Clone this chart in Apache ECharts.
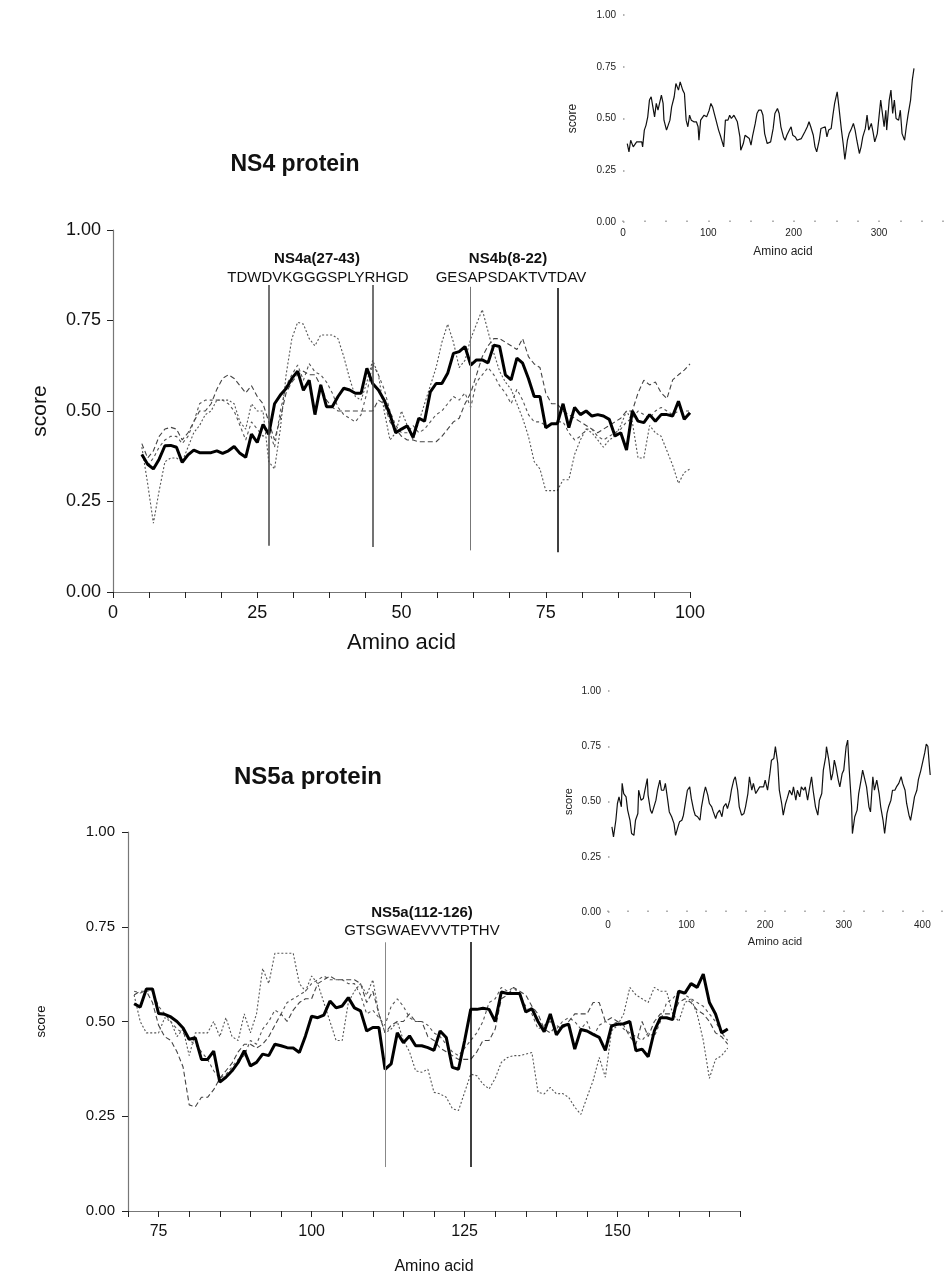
<!DOCTYPE html>
<html>
<head>
<meta charset="utf-8">
<script src="https://cdn.jsdelivr.net/npm/echarts@6/dist/echarts.min.js"></script>
<style>
  html, body { margin: 0; padding: 0; background: #fff; }
  #chart { width: 950px; height: 1276px; }
</style>
</head>
<body>
<div id="chart"></div>
<script>
var FONT = 'Arial, "Liberation Sans", sans-serif';

// NS4 main plot, amino acids 5..100
var ns4Start = 5;
var ns4Solid = [0.38,0.353,0.34,0.367,0.404,0.405,0.40,0.358,0.379,0.392,
  0.385,0.385,0.385,0.39,0.383,0.39,0.402,0.383,0.372,0.436,
  0.413,0.463,0.436,0.52,0.544,0.562,0.59,0.61,0.557,0.585,
  0.49,0.572,0.512,0.512,0.54,0.563,0.558,0.549,0.549,0.618,
  0.576,0.558,0.53,0.49,0.44,0.45,0.459,0.427,0.48,0.472,
  0.553,0.576,0.576,0.604,0.659,0.664,0.678,0.627,0.641,0.641,
  0.633,0.682,0.678,0.6,0.586,0.646,0.632,0.59,0.54,0.54,
  0.454,0.465,0.465,0.52,0.454,0.51,0.49,0.5,0.486,0.49,
  0.486,0.477,0.431,0.44,0.392,0.5,0.472,0.468,0.49,0.472,
  0.49,0.49,0.486,0.527,0.477,0.495];
var ns4Dot = [0.40,0.30,0.19,0.28,0.36,0.37,0.37,0.36,0.40,0.44,
  0.46,0.49,0.50,0.53,0.53,0.53,0.52,0.47,0.45,0.52,
  0.50,0.50,0.36,0.34,0.45,0.60,0.70,0.745,0.74,0.70,
  0.68,0.71,0.71,0.71,0.70,0.65,0.59,0.54,0.53,0.58,
  0.64,0.60,0.50,0.42,0.44,0.50,0.46,0.42,0.47,0.52,
  0.57,0.62,0.69,0.74,0.69,0.62,0.64,0.70,0.74,0.78,
  0.72,0.66,0.61,0.58,0.56,0.52,0.48,0.43,0.36,0.34,
  0.28,0.28,0.28,0.31,0.31,0.38,0.42,0.45,0.44,0.42,
  0.40,0.42,0.43,0.46,0.50,0.47,0.37,0.37,0.46,0.44,
  0.43,0.39,0.35,0.30,0.33,0.34];
var ns4Long = [0.41,0.37,0.39,0.43,0.45,0.455,0.45,0.42,0.44,0.47,
  0.50,0.50,0.52,0.56,0.59,0.60,0.59,0.57,0.55,0.57,
  0.54,0.52,0.47,0.42,0.48,0.55,0.58,0.60,0.61,0.60,
  0.60,0.57,0.53,0.51,0.50,0.50,0.50,0.50,0.50,0.50,
  0.50,0.53,0.52,0.47,0.45,0.43,0.42,0.42,0.415,0.415,
  0.415,0.415,0.43,0.45,0.47,0.48,0.52,0.55,0.60,0.65,
  0.68,0.70,0.70,0.69,0.68,0.67,0.70,0.65,0.63,0.62,
  0.55,0.52,0.52,0.50,0.49,0.48,0.47,0.46,0.45,0.44,
  0.45,0.46,0.47,0.48,0.50,0.50,0.55,0.585,0.572,0.58,
  0.55,0.534,0.586,0.60,0.613,0.63];
var ns4Med = [0.38,0.35,0.37,0.40,0.42,0.43,0.43,0.41,0.43,0.47,
  0.52,0.53,0.53,0.53,0.53,0.52,0.50,0.46,0.42,0.47,
  0.45,0.43,0.45,0.40,0.50,0.57,0.60,0.627,0.585,0.631,
  0.608,0.60,0.58,0.55,0.51,0.49,0.48,0.47,0.49,0.55,
  0.63,0.60,0.56,0.50,0.46,0.44,0.44,0.46,0.44,0.45,
  0.47,0.49,0.50,0.52,0.54,0.53,0.55,0.51,0.58,0.60,
  0.62,0.60,0.57,0.55,0.52,0.56,0.53,0.49,0.47,0.47,
  0.46,0.46,0.47,0.47,0.44,0.42,0.43,0.45,0.45,0.43,
  0.42,0.43,0.44,0.45,0.47,0.48,0.50,0.49,0.48,0.50,
  0.51,0.50,0.49,0.50,0.50,0.50];
var ns4Marks = [27, 45, 62, 77];

// NS4 whole-protein inset
var ns4FullX = [5,7,9,12,16,22,23,25,27,29,31,33,35,37,39,41,43,45,47,48,
  51,52,55,57,60,62,65,67,70,72,74,76,78,80,83,86,88,89,91,93,
  95,98,101,103,105,107,109,112,114,116,118,120,123,125,127,130,132,134,137,138,
  141,143,145,148,150,152,155,157,159,162,164,166,169,171,173,176,178,181,183,185,
  188,190,192,195,197,199,202,204,206,209,211,213,216,218,220,223,225,227,230,232,
  234,237,239,241,244,246,248,251,253,256,258,260,263,265,267,270,272,274,277,279,
  281,284,286,288,291,293,295,298,300,302,304,306,308,309,312,314,316,318,320,323,
  325,327,330,332,334,337,339,341];
var ns4FullY = [0.379,0.339,0.395,0.363,0.387,0.387,0.363,0.444,0.468,0.508,0.589,0.605,0.556,0.508,0.573,0.54,0.548,0.613,0.573,0.492,
  0.444,0.435,0.492,0.556,0.605,0.669,0.637,0.677,0.637,0.621,0.492,0.46,0.516,0.492,0.484,0.484,0.46,0.395,0.492,0.484,
  0.516,0.508,0.54,0.573,0.556,0.524,0.492,0.444,0.419,0.427,0.363,0.492,0.492,0.516,0.5,0.516,0.508,0.484,0.411,0.347,
  0.379,0.419,0.411,0.403,0.371,0.419,0.476,0.524,0.54,0.54,0.516,0.427,0.379,0.379,0.387,0.452,0.524,0.548,0.524,0.46,
  0.411,0.395,0.419,0.444,0.46,0.419,0.411,0.395,0.387,0.403,0.419,0.435,0.46,0.484,0.46,0.419,0.363,0.339,0.395,0.452,
  0.452,0.46,0.411,0.444,0.452,0.516,0.573,0.629,0.556,0.444,0.379,0.302,0.395,0.427,0.444,0.476,0.444,0.395,0.331,0.363,
  0.411,0.452,0.516,0.444,0.476,0.435,0.387,0.427,0.508,0.589,0.524,0.46,0.54,0.444,0.589,0.637,0.524,0.589,0.5,0.492,
  0.54,0.427,0.395,0.46,0.516,0.589,0.685,0.742];

// NS5a main plot, amino acids 71..168
var ns5Start = 71;
var ns5Solid = [0.547,0.538,0.586,0.586,0.521,0.519,0.512,0.50,0.483,0.453,
  0.457,0.40,0.40,0.422,0.34,0.353,0.37,0.392,0.423,0.383,
  0.392,0.414,0.41,0.44,0.436,0.431,0.43,0.418,0.462,0.514,
  0.51,0.517,0.554,0.536,0.541,0.563,0.536,0.528,0.475,0.484,
  0.484,0.374,0.388,0.47,0.444,0.462,0.436,0.436,0.431,0.424,
  0.475,0.458,0.379,0.374,0.449,0.532,0.532,0.535,0.532,0.50,
  0.578,0.574,0.574,0.574,0.525,0.534,0.50,0.473,0.52,0.465,
  0.488,0.493,0.427,0.479,0.475,0.466,0.458,0.424,0.488,0.493,
  0.494,0.50,0.423,0.427,0.407,0.475,0.51,0.51,0.505,0.58,
  0.575,0.60,0.59,0.625,0.55,0.52,0.47,0.48];
var ns5Dot = [0.57,0.50,0.47,0.47,0.47,0.51,0.50,0.46,0.48,0.41,
  0.47,0.47,0.47,0.50,0.46,0.51,0.46,0.45,0.52,0.47,
  0.52,0.64,0.60,0.68,0.68,0.68,0.68,0.60,0.58,0.62,
  0.60,0.55,0.50,0.45,0.45,0.55,0.58,0.60,0.57,0.61,
  0.52,0.47,0.48,0.50,0.45,0.42,0.37,0.366,0.374,0.313,
  0.309,0.30,0.27,0.265,0.313,0.361,0.357,0.335,0.322,0.35,
  0.392,0.405,0.41,0.41,0.414,0.418,0.313,0.309,0.326,0.309,
  0.31,0.30,0.274,0.255,0.30,0.344,0.405,0.353,0.475,0.49,
  0.52,0.59,0.57,0.56,0.55,0.59,0.58,0.58,0.52,0.50,
  0.55,0.56,0.52,0.45,0.35,0.40,0.41,0.43];
var ns5Long = [0.57,0.58,0.58,0.55,0.49,0.46,0.45,0.42,0.38,0.28,
  0.275,0.30,0.30,0.32,0.35,0.37,0.39,0.42,0.44,0.44,
  0.43,0.44,0.46,0.49,0.52,0.50,0.53,0.55,0.56,0.56,
  0.60,0.61,0.62,0.61,0.61,0.61,0.61,0.60,0.55,0.58,
  0.52,0.47,0.49,0.50,0.50,0.52,0.50,0.50,0.46,0.45,
  0.43,0.42,0.41,0.40,0.40,0.40,0.42,0.45,0.45,0.48,
  0.56,0.57,0.59,0.58,0.57,0.54,0.52,0.48,0.47,0.49,
  0.48,0.50,0.52,0.52,0.52,0.55,0.55,0.50,0.51,0.50,
  0.49,0.46,0.44,0.50,0.46,0.50,0.52,0.52,0.52,0.55,
  0.56,0.55,0.53,0.52,0.50,0.47,0.46,0.44];
var ns5Med = [0.58,0.575,0.58,0.58,0.54,0.52,0.50,0.48,0.47,0.45,
  0.44,0.42,0.40,0.37,0.35,0.36,0.38,0.40,0.41,0.45,
  0.44,0.48,0.50,0.53,0.52,0.55,0.56,0.57,0.58,0.60,
  0.61,0.62,0.61,0.61,0.61,0.60,0.60,0.57,0.52,0.53,
  0.51,0.49,0.54,0.56,0.54,0.51,0.50,0.50,0.49,0.47,
  0.46,0.44,0.42,0.41,0.43,0.45,0.47,0.50,0.55,0.56,
  0.59,0.58,0.59,0.57,0.54,0.52,0.48,0.49,0.50,0.48,
  0.50,0.51,0.50,0.48,0.50,0.46,0.49,0.50,0.49,0.50,
  0.48,0.47,0.46,0.45,0.47,0.46,0.50,0.55,0.56,0.58,
  0.57,0.56,0.55,0.54,0.52,0.50,0.47,0.45];
var ns5Marks = [112, 126];

// NS5a whole-protein inset
var ns5FullX = [5,7,10,12,14,17,18,20,23,25,28,30,33,35,38,39,42,45,47,50,
  51,54,56,58,61,63,66,68,71,73,76,78,81,84,86,89,91,94,96,99,
  101,104,106,109,111,114,117,119,122,124,127,129,132,134,137,139,142,145,147,150,
  152,155,157,160,162,165,167,170,173,175,178,180,183,185,188,190,193,195,198,200,
  203,206,208,211,213,216,218,221,223,226,228,231,234,236,239,241,244,246,249,251,
  254,256,259,261,264,267,269,272,274,277,278,281,284,286,288,290,293,295,298,300,
  303,305,307,310,311,314,317,319,322,324,327,329,332,334,337,339,342,345,347,350,
  352,355,357,360,362,365,367,370,373,375,378,380,383,385,388,390,393,395,398,400,
  403,405,407,409,410];
var ns5FullY = [0.385,0.34,0.415,0.491,0.521,0.476,0.582,0.536,0.521,0.461,0.415,0.355,0.347,0.415,0.446,0.551,0.506,0.514,0.551,0.604,
  0.529,0.461,0.446,0.453,0.506,0.551,0.597,0.551,0.551,0.582,0.506,0.453,0.431,0.40,0.347,0.385,0.408,0.415,0.438,0.506,
  0.551,0.566,0.514,0.461,0.438,0.431,0.415,0.476,0.536,0.566,0.529,0.491,0.476,0.453,0.423,0.446,0.461,0.431,0.476,0.491,
  0.468,0.506,0.551,0.597,0.612,0.551,0.476,0.438,0.446,0.476,0.536,0.612,0.551,0.582,0.536,0.544,0.566,0.574,0.566,0.597,
  0.551,0.627,0.687,0.695,0.748,0.672,0.551,0.491,0.438,0.491,0.514,0.551,0.529,0.566,0.506,0.551,0.521,0.566,0.551,0.566,
  0.506,0.551,0.612,0.551,0.476,0.438,0.506,0.536,0.642,0.702,0.748,0.687,0.597,0.627,0.687,0.657,0.597,0.566,0.627,0.642,
  0.748,0.778,0.642,0.476,0.355,0.431,0.461,0.536,0.597,0.642,0.597,0.566,0.476,0.453,0.612,0.551,0.597,0.536,0.476,0.415,
  0.355,0.446,0.476,0.506,0.551,0.551,0.566,0.582,0.612,0.582,0.551,0.491,0.438,0.415,0.476,0.521,0.551,0.60,0.64,0.64,
  0.72,0.76,0.75,0.66,0.62];

var scoreTicks = [0, 0.25, 0.5, 0.75, 1];

//把序列值转成[x,y]点
function pairs(start, vals){
  var out = [];
  for(var i = 0; i < vals.length; i++){
    out.push([start + i, vals[i]]);
  }
  return out;
}
function zip(xs, ys){
  var out = [];
  for(var i = 0; i < xs.length; i++){
    out.push([xs[i], ys[i]]);
  }
  return out;
}

//竖线
function vline(x, top, bottom, color, width){
  return [{coord: [x, bottom], lineStyle: {color: color, width: width, type: 'solid'}}, {coord: [x, top]}];
}

function mainSeries(idx, start, solid, dot, lng, med, marks){
  return [
    {type: 'line', xAxisIndex: idx, yAxisIndex: idx, data: pairs(start, lng), symbol: 'none',
      lineStyle: {color: '#444', width: 1.1, type: [5, 3]}, z: 2},
    {type: 'line', xAxisIndex: idx, yAxisIndex: idx, data: pairs(start, med), symbol: 'none',
      lineStyle: {color: '#555', width: 1.1, type: [3, 3]}, z: 2},
    {type: 'line', xAxisIndex: idx, yAxisIndex: idx, data: pairs(start, dot), symbol: 'none',
      lineStyle: {color: '#555', width: 1.1, type: [2, 2]}, z: 2},
    {type: 'line', xAxisIndex: idx, yAxisIndex: idx, data: pairs(start, solid), symbol: 'none',
      lineStyle: {color: '#000', width: 3}, z: 4,
      markLine: {silent: true, symbol: 'none', label: {show: false}, animation: false, data: marks}}
  ];
}

var chart = echarts.init(document.getElementById('chart'));

var axisText = {fontFamily: FONT, color: '#111'};

var option = {
  animation: false,
  backgroundColor: '#fff',
  grid: [
    {left: 113, top: 230, width: 577, height: 362},
    {left: 623, top: 15, width: 320, height: 207},
    {left: 128, top: 832, width: 612, height: 382},
    {left: 608, top: 691, width: 334, height: 221}
  ],
  xAxis: [
    {gridIndex: 0, type: 'value', min: 0, max: 100, interval: 6.25,
      name: 'Amino acid', nameLocation: 'middle', nameGap: 40,
      nameTextStyle: {fontFamily: FONT, fontSize: 22, color: '#111'},
      axisLine: {lineStyle: {color: '#777', width: 1.2}},
      axisTick: {length: 6, lineStyle: {color: '#222'}},
      axisLabel: {fontFamily: FONT, fontSize: 18, color: '#111', margin: 12,
        formatter: function(v){ return v % 25 === 0 ? String(v) : ''; }},
      splitLine: {show: false}},
    {gridIndex: 1, type: 'value', min: 0, max: 375, interval: 25,
      name: 'Amino acid', nameLocation: 'middle', nameGap: 24,
      nameTextStyle: {fontFamily: FONT, fontSize: 12, color: '#222'},
      axisLine: {show: false},
      axisTick: {length: 1.5, inside: true, lineStyle: {color: '#999', width: 1.5}},
      axisLabel: {fontFamily: FONT, fontSize: 10, color: '#222', margin: 6,
        formatter: function(v){ return v % 100 === 0 ? String(v) : ''; }},
      splitLine: {show: false}},
    {gridIndex: 2, type: 'value', min: 70, max: 170, interval: 5,
      name: 'Amino acid', nameLocation: 'middle', nameGap: 48,
      nameTextStyle: {fontFamily: FONT, fontSize: 16, color: '#111'},
      axisLine: {lineStyle: {color: '#777', width: 1.2}},
      axisTick: {length: 6, lineStyle: {color: '#222'}},
      axisLabel: {fontFamily: FONT, fontSize: 16, color: '#111', margin: 13,
        formatter: function(v){ return v % 25 === 0 ? String(v) : ''; }},
      splitLine: {show: false}},
    {gridIndex: 3, type: 'value', min: 0, max: 425, interval: 25,
      name: 'Amino acid', nameLocation: 'middle', nameGap: 24,
      nameTextStyle: {fontFamily: FONT, fontSize: 11, color: '#222'},
      axisLine: {show: false},
      axisTick: {length: 1.5, inside: true, lineStyle: {color: '#999', width: 1.5}},
      axisLabel: {fontFamily: FONT, fontSize: 10, color: '#222', margin: 8,
        formatter: function(v){ return v % 100 === 0 ? String(v) : ''; }},
      splitLine: {show: false}}
  ],
  yAxis: [
    {gridIndex: 0, type: 'value', min: 0, max: 1, interval: 0.25,
      name: 'score', nameLocation: 'middle', nameGap: 62,
      nameTextStyle: {fontFamily: FONT, fontSize: 21, color: '#111'},
      axisLine: {show: true, lineStyle: {color: '#777', width: 1.2}},
      axisTick: {show: true, length: 6, lineStyle: {color: '#222'}},
      axisLabel: {fontFamily: FONT, fontSize: 18, color: '#111', margin: 12,
        formatter: function(v){ return v.toFixed(2); }},
      splitLine: {show: false}},
    {gridIndex: 1, type: 'value', min: 0, max: 1, interval: 0.25,
      name: 'score', nameLocation: 'middle', nameGap: 44,
      nameTextStyle: {fontFamily: FONT, fontSize: 12, color: '#222'},
      axisLine: {show: false},
      axisTick: {show: true, length: 1.5, inside: true, lineStyle: {color: '#999', width: 1.5}},
      axisLabel: {fontFamily: FONT, fontSize: 10, color: '#222', margin: 7,
        formatter: function(v){ return v.toFixed(2); }},
      splitLine: {show: false}},
    {gridIndex: 2, type: 'value', min: 0, max: 1, interval: 0.25,
      name: 'score', nameLocation: 'middle', nameGap: 80,
      nameTextStyle: {fontFamily: FONT, fontSize: 13, color: '#111'},
      axisLine: {show: true, lineStyle: {color: '#777', width: 1.2}},
      axisTick: {show: true, length: 6, lineStyle: {color: '#222'}},
      axisLabel: {fontFamily: FONT, fontSize: 15, color: '#111', margin: 13,
        formatter: function(v){ return v.toFixed(2); }},
      splitLine: {show: false}},
    {gridIndex: 3, type: 'value', min: 0, max: 1, interval: 0.25,
      name: 'score', nameLocation: 'middle', nameGap: 34,
      nameTextStyle: {fontFamily: FONT, fontSize: 11, color: '#222'},
      axisLine: {show: false},
      axisTick: {show: true, length: 1.5, inside: true, lineStyle: {color: '#999', width: 1.5}},
      axisLabel: {fontFamily: FONT, fontSize: 10, color: '#222', margin: 7,
        formatter: function(v){ return v.toFixed(2); }},
      splitLine: {show: false}}
  ],
  graphic: [
    {type: 'text', left: 'center', style: {text: ''}},
    {type: 'text', x: 295, y: 165, style: {text: 'NS4 protein', fontFamily: FONT, fontSize: 23, fontWeight: 'bold', fill: '#111', align: 'center', verticalAlign: 'middle'}},
    {type: 'text', x: 308, y: 777, style: {text: 'NS5a protein', fontFamily: FONT, fontSize: 24, fontWeight: 'bold', fill: '#111', align: 'center', verticalAlign: 'middle'}},
    {type: 'text', x: 317, y: 259, style: {text: 'NS4a(27-43)', fontFamily: FONT, fontSize: 15, fontWeight: 'bold', fill: '#111', align: 'center', verticalAlign: 'middle'}},
    {type: 'text', x: 318, y: 278, style: {text: 'TDWDVKGGGSPLYRHGD', fontFamily: FONT, fontSize: 15, fill: '#111', align: 'center', verticalAlign: 'middle'}},
    {type: 'text', x: 508, y: 259, style: {text: 'NS4b(8-22)', fontFamily: FONT, fontSize: 15, fontWeight: 'bold', fill: '#111', align: 'center', verticalAlign: 'middle'}},
    {type: 'text', x: 511, y: 278, style: {text: 'GESAPSDAKTVTDAV', fontFamily: FONT, fontSize: 15, fill: '#111', align: 'center', verticalAlign: 'middle'}},
    {type: 'text', x: 422, y: 913, style: {text: 'NS5a(112-126)', fontFamily: FONT, fontSize: 15, fontWeight: 'bold', fill: '#111', align: 'center', verticalAlign: 'middle'}},
    {type: 'text', x: 422, y: 931, style: {text: 'GTSGWAEVVVTPTHV', fontFamily: FONT, fontSize: 15, fill: '#111', align: 'center', verticalAlign: 'middle'}}
  ],
  series: []
};

var ns4MarkLines = [
  vline(ns4Marks[0], 0.848, 0.128, '#444', 1.5),
  vline(ns4Marks[1], 0.848, 0.124, '#444', 1.5),
  vline(ns4Marks[2], 0.843, 0.115, '#777', 1),
  vline(ns4Marks[3], 0.84, 0.11, '#000', 1.5)
];
var ns5MarkLines = [
  vline(ns5Marks[0], 0.709, 0.116, '#888', 1),
  vline(ns5Marks[1], 0.71, 0.116, '#000', 1.5)
];

option.series = option.series
  .concat(mainSeries(0, ns4Start, ns4Solid, ns4Dot, ns4Long, ns4Med, ns4MarkLines))
  .concat(mainSeries(2, ns5Start, ns5Solid, ns5Dot, ns5Long, ns5Med, ns5MarkLines));

option.series.push({type: 'line', xAxisIndex: 1, yAxisIndex: 1, data: zip(ns4FullX, ns4FullY),
  symbol: 'none', lineStyle: {color: '#111', width: 1.2}});
option.series.push({type: 'line', xAxisIndex: 3, yAxisIndex: 3, data: zip(ns5FullX, ns5FullY),
  symbol: 'none', lineStyle: {color: '#111', width: 1.2}});

chart.setOption(option);
</script>
</body>
</html>
